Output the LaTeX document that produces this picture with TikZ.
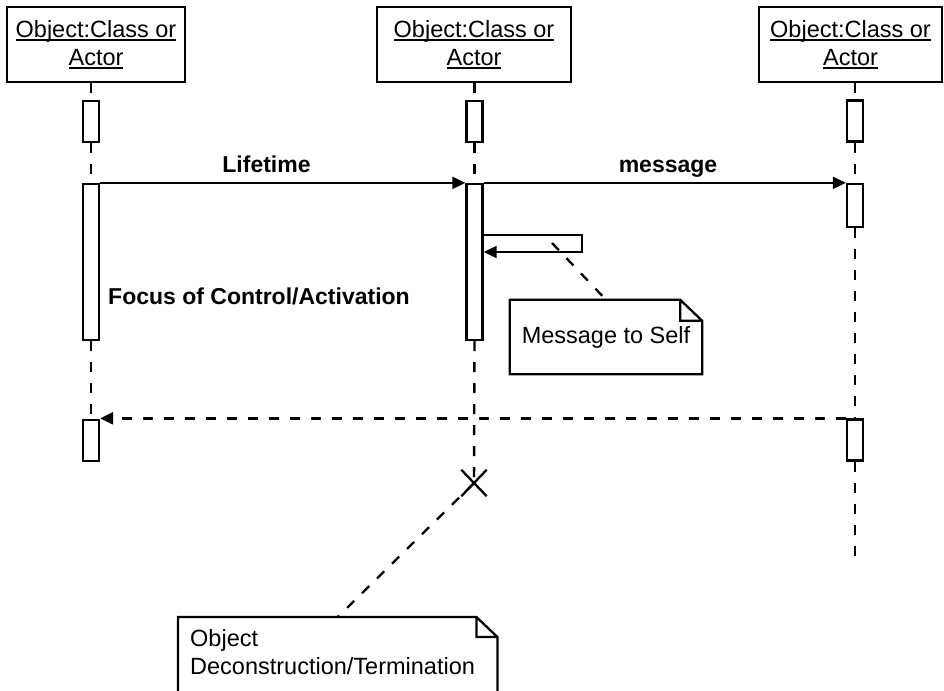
\documentclass[tikz,border=0pt]{standalone}
\usepackage{fontspec}
\setmainfont{Liberation Sans}
\usetikzlibrary{arrows.meta,shapes.misc}
% underline that sits just below the baseline, like in UML object names
\newcommand\undl[1]{\setbox0\hbox{#1}\leavevmode\rlap{\rule[-3.4pt]{\wd0}{1.7pt}}\box0}

\begin{document}
\begin{tikzpicture}[x=1pt,y=-1pt,
  every node/.style={font=\fontsize{23.5}{28}\selectfont},
  objbox/.style={draw, line width=2.3pt, minimum height=75pt, inner sep=0pt, align=center},
  actbox/.style={draw, line width=2.3pt, minimum width=16pt, inner sep=0pt, fill=white},
  lifeline/.style={line width=2.4pt, dash pattern=on 10pt off 11pt},
  msg/.style={line width=2pt, -{Triangle[length=13pt,width=12pt]}},
  reply/.style={msg, line width=2.3pt, dash pattern=on 10pt off 11pt},
  lbl/.style={font=\fontsize{23}{28}\selectfont\bfseries, inner sep=0pt, anchor=base},
  notelink/.style={line width=2.3pt, dash pattern=on 10pt off 11pt},
  notebox/.style={inner sep=0pt},
  outline/.style={line width=2.3pt, line join=miter},
  ]
\useasboundingbox (0,0) rectangle (944,690);
\clip (0,0) rectangle (944,690);

% objects
\node[objbox, minimum width=178pt] (obj1) at (96,44.5) {\undl{Object:Class or}\\\undl{Actor}};
\node[objbox, minimum width=194pt] (obj2) at (474,44.5) {\undl{Object:Class or}\\\undl{Actor}};
\node[objbox, minimum width=183pt] (obj3) at (850.5,44.5) {\undl{Object:Class or}\\\undl{Actor}};

% activation bars
\node[actbox, minimum height=41pt]  (a1a) at (91,121.5) {};
\node[actbox, minimum height=156pt] (a1b) at (91,262) {};
\node[actbox, minimum height=41pt]  (a1c) at (91,440.5) {};
\node[actbox, minimum height=41pt]  (a2a) at (474.5,121.5) {};
\node[actbox, minimum height=156pt] (a2b) at (474.5,262) {};
\node[actbox, minimum height=41pt]  (a3a) at (855,121) {};
\node[actbox, minimum height=43pt]  (a3b) at (855,205.5) {};
\node[actbox, minimum height=41pt]  (a3c) at (855,440) {};

% destruction mark and lifeline end
\node[draw, cross out, line width=2.3pt, minimum width=23pt, minimum height=24pt, inner sep=0pt] (xmark) at (474,483) {};
\coordinate (end3) at (855,557);

% lifelines
\draw[lifeline] (a1a.north |- obj1.south) -- (a1a.north);
\draw[lifeline] (a1a.south) -- (a1b.north);
\draw[lifeline] (a1b.south) -- (a1c.north);
\draw[lifeline] (a2a.north |- obj2.south) -- (a2a.north);
\draw[lifeline] (a2a.south) -- (a2b.north);
\draw[lifeline] (a2b.south) -- (xmark.center);
\draw[lifeline] (a3a.north |- obj3.south) -- (a3a.north);
\draw[lifeline] (a3a.south) -- (a3b.north);
\draw[lifeline] (a3b.south) -- (a3c.north);
\draw[lifeline] (a3c.south) -- (end3);

% messages
\draw[msg] (a1b.north east) -- (a1b.north east -| a2b.west);
\draw[msg] (a2b.north east) -- (a2b.north east -| a3b.west);
\draw[reply] (a3c.north west) -- (a3c.north west -| a1c.east);
\coordinate (selfA) at (582,235);
\coordinate (selfB) at (582,252);
\draw[msg] (a2b.east |- selfA) -- (selfA) -- (selfB) -- (a2b.east |- selfB);

% labels
\node[lbl] (lifelbl) at (266.5,172) {Lifetime};
\node[lbl] (msglbl) at (668,172) {message};
\node[lbl, anchor=base west] (focuslbl) at (108,304) {Focus of Control/Activation};

% notes
\node[notebox, minimum width=192pt, minimum height=74pt] (note1) at (606,337) {Message to Self};
\draw[outline] (note1.north west) -- ([xshift=-22pt]note1.north east)
  -- ([yshift=-21pt]note1.north east) -- (note1.south east) -- (note1.south west) -- cycle
  ([xshift=-22pt]note1.north east) |- ([yshift=-21pt]note1.north east);

\node[notebox, anchor=north west, text width=295pt, align=left, inner xsep=12pt, inner ysep=12.5pt] (note2) at (178,617) {Object\\Deconstruction/Termination};
\coordinate (note2bottom) at (0,705);
\draw[outline] (note2.north west) -- ([xshift=-21pt]note2.north east)
  -- ([yshift=-20pt]note2.north east) -- (note2.east |- note2bottom) -- (note2.west |- note2bottom) -- cycle
  ([xshift=-21pt]note2.north east) |- ([yshift=-20pt]note2.north east);

% note links
\coordinate (selfnote) at (552,243);
\draw[notelink] (selfnote) -- (note1.north);
\draw[notelink] (xmark.center) -- (note2.north);
\end{tikzpicture}
\end{document}
